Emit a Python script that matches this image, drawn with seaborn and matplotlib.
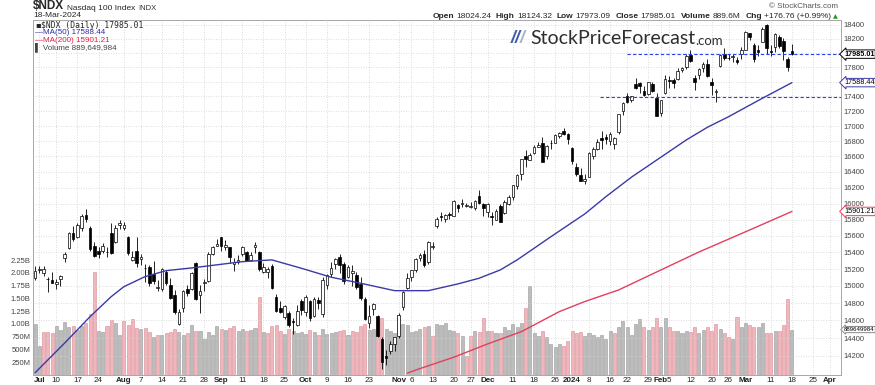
import numpy as np
import pandas as pd
import seaborn as sns
import matplotlib.pyplot as plt
from matplotlib.ticker import FixedLocator, NullLocator

# trading calendar (Jun 30 2023 .. early Apr 2024)
holidays = ['2023-07-04', '2023-09-04', '2023-11-23', '2023-12-25',
            '2024-01-01', '2024-01-15', '2024-02-19', '2024-03-29']
calendar = pd.bdate_range('2023-06-30', '2024-04-05', freq='C', holidays=holidays)

# daily OHLC
opens = [15090, 15185, 15150, 15080, 15075, 15020, 15080, 15330, 15450, 15640,
         15590, 15700, 15860, 15700, 15480, 15420, 15420, 15400, 15640, 15530,
         15730, 15700, 15580, 15310, 15420, 15320, 15210, 15230, 15140, 14980,
         14960, 15160, 15010, 14900, 14560, 14740, 14970, 14970, 15270, 14890,
         15030, 15060, 15380, 15480, 15580, 15460, 15460, 15260, 15280, 15380,
         15410, 15310, 15460, 15400, 15170, 15170, 15240, 14870, 14740, 14640,
         14690, 14590, 14550, 14820, 14700, 14820, 14650, 14840, 14670, 15010,
         15140, 15260, 15340, 15260, 15100, 15150, 15130, 15020, 14850, 14570,
         14730, 14650, 14390, 14200, 14250, 14330, 14420, 14750, 14980, 15100,
         15190, 15330, 15380, 15280, 15460, 15720, 15850, 15810, 15870, 15850,
         15980, 15990, 15970, 15960, 15940, 16100, 16000, 15900, 15840, 15800,
         15970, 15880, 15990, 16080, 16220, 16380, 16610, 16560, 16640, 16730,
         16780, 16600, 16770, 16780, 16870, 16930, 16900, 16710, 16460, 16360,
         16280, 16330, 16600, 16700, 16840, 16860, 16800, 16760, 16920, 17200,
         17400, 17350, 17570, 17580, 17480, 17430, 17570, 17380, 17180, 17450,
         17630, 17630, 17640, 17760, 17800, 17970, 17650, 17700, 17790, 17840,
         17600, 17460, 17820, 17990, 17930, 17940, 17900, 17980, 18050, 18280,
         18110, 18050, 18160, 18400, 18020, 18090, 18230, 18170, 17920, 18024]
highs = [15232, 15240, 15235, 15110, 15165, 15080, 15130, 15410, 15650, 15720,
         15760, 15870, 15932, 15720, 15520, 15470, 15510, 15470, 15760, 15730,
         15800, 15770, 15600, 15420, 15580, 15380, 15260, 15250, 15290, 15070,
         15210, 15190, 15090, 14950, 14730, 14950, 15010, 15160, 15280, 15010,
         15080, 15400, 15480, 15560, 15590, 15550, 15470, 15330, 15370, 15480,
         15420, 15400, 15520, 15420, 15270, 15230, 15260, 14910, 14830, 14780,
         14710, 14630, 14780, 14850, 14890, 14840, 14870, 14870, 15100, 15140,
         15280, 15330, 15380, 15280, 15250, 15250, 15170, 15110, 14870, 14780,
         14800, 14660, 14410, 14270, 14370, 14410, 14690, 14940, 15150, 15190,
         15330, 15390, 15430, 15540, 15520, 15830, 15890, 15870, 15900, 16050,
         16000, 16060, 16010, 16020, 16040, 16170, 16010, 16010, 15890, 15930,
         16000, 16050, 16110, 16230, 16370, 16570, 16690, 16650, 16750, 16790,
         16860, 16750, 16820, 16890, 16920, 16970, 16910, 16720, 16510, 16450,
         16380, 16660, 16720, 16830, 16930, 16900, 16920, 16860, 17160, 17320,
         17440, 17410, 17650, 17600, 17540, 17600, 17590, 17440, 17350, 17700,
         17680, 17650, 17790, 17810, 17980, 18040, 17700, 17790, 17870, 17910,
         17650, 17500, 17980, 18070, 17990, 17990, 17950, 18090, 18310, 18290,
         18140, 18110, 18370, 18416, 18110, 18290, 18250, 18220, 17950, 18124]
lows = [15075, 15150, 15120, 14930, 15030, 14960, 15000, 15280, 15440, 15540,
        15570, 15660, 15770, 15420, 15340, 15330, 15390, 15340, 15380, 15510,
        15690, 15670, 15370, 15300, 15230, 15250, 15050, 15000, 15020, 14940,
        14940, 15010, 14850, 14680, 14550, 14700, 14880, 14950, 14840, 14690,
        14940, 15050, 15370, 15480, 15420, 15430, 15270, 15180, 15260, 15360,
        15290, 15290, 15390, 15180, 15150, 15090, 14970, 14700, 14690, 14620,
        14530, 14450, 14540, 14660, 14650, 14590, 14640, 14730, 14640, 14970,
        15110, 15200, 15150, 15020, 15090, 15000, 14960, 14840, 14610, 14510,
        14660, 14410, 14058, 14100, 14220, 14250, 14400, 14720, 14970, 15060,
        15160, 15290, 15230, 15260, 15440, 15700, 15780, 15770, 15810, 15840,
        15890, 15960, 15960, 15940, 15920, 15990, 15850, 15830, 15730, 15790,
        15770, 15870, 15980, 16050, 16180, 16300, 16470, 16550, 16630, 16720,
        16530, 16570, 16700, 16780, 16840, 16880, 16760, 16500, 16350, 16280,
        16250, 16330, 16570, 16690, 16700, 16760, 16750, 16700, 16900, 17150,
        17310, 17320, 17500, 17450, 17410, 17420, 17460, 17130, 17140, 17430,
        17520, 17510, 17620, 17730, 17780, 17870, 17490, 17640, 17740, 17660,
        17420, 17320, 17800, 17900, 17900, 17880, 17850, 17910, 18040, 18180,
        17870, 17960, 18150, 17990, 17960, 18020, 18070, 17900, 17750, 17973]
closes = [15179, 15204, 15196, 15078, 15034, 15043, 15115, 15381, 15631, 15565,
          15730, 15842, 15810, 15443, 15360, 15385, 15476, 15410, 15390, 15693,
          15757, 15735, 15387, 15349, 15274, 15349, 15214, 15037, 15060, 14991,
          15205, 15029, 14854, 14694, 14694, 14941, 14923, 15148, 14843, 14941,
          15046, 15374, 15467, 15501, 15475, 15488, 15347, 15287, 15306, 15461,
          15298, 15370, 15490, 15203, 15230, 15200, 14979, 14704, 14701, 14771,
          14548, 14585, 14711, 14715, 14875, 14625, 14852, 14805, 15070, 15130,
          15210, 15315, 15253, 15057, 15224, 15178, 14993, 14864, 14618, 14652,
          14788, 14428, 14138, 14180, 14336, 14410, 14665, 14930, 15099, 15183,
          15324, 15363, 15250, 15529, 15482, 15812, 15831, 15859, 15863, 16028,
          15946, 16002, 15983, 15964, 16027, 16005, 15947, 15997, 15836, 15908,
          15776, 16023, 16085, 16229, 16363, 16566, 16561, 16623, 16727, 16746,
          16531, 16742, 16777, 16879, 16908, 16898, 16826, 16543, 16368, 16282,
          16306, 16650, 16692, 16792, 16821, 16832, 16898, 16844, 17156, 17314,
          17329, 17404, 17516, 17538, 17421, 17596, 17476, 17137, 17345, 17642,
          17614, 17578, 17755, 17784, 17963, 17882, 17600, 17770, 17844, 17685,
          17549, 17479, 17970, 17937, 17929, 17965, 17874, 18043, 18302, 18232,
          17912, 18017, 18339, 18078, 18019, 18267, 18099, 18026, 17808, 17985]
# volume in millions
volumes = [990, 565, 840, 850, 830, 960, 890, 1040, 930, 960,
           890, 960, 1020, 1190, 2010, 860, 850, 960, 1070, 1020,
           780, 1050, 980, 1090, 920, 900, 920, 850, 740, 790,
           790, 820, 850, 900, 850, 790, 820, 980, 860, 860,
           700, 850, 790, 960, 900, 880, 920, 960, 860, 900,
           870, 880, 920, 1530, 850, 820, 960, 980, 870, 800,
           900, 860, 820, 850, 800, 880, 850, 780, 900, 800,
           820, 850, 860, 880, 780, 860, 850, 960, 1000, 880,
           900, 1100, 1120, 900, 870, 830, 1160, 1000, 980, 850,
           870, 910, 930, 960, 760, 990, 980, 1010, 880, 860,
           820, 760, 370, 760, 860, 850, 1110, 860, 860, 830,
           820, 930, 890, 1000, 930, 1020, 1320, 1750, 820, 760,
           870, 750, 600, 550, 610, 570, 670, 870, 820, 850,
           760, 820, 790, 750, 780, 700, 870, 820, 940, 1060,
           940, 790, 1000, 1090, 930, 880, 930, 1110, 930, 1110,
           930, 860, 860, 820, 860, 850, 930, 820, 880, 930,
           860, 990, 910, 820, 750, 700, 1140, 930, 1020, 980,
           940, 940, 1020, 820, 820, 870, 870, 980, 1480, 890]

# moving averages (trading-day index, value)
ma50_idx = [0, 7, 13, 18, 21, 26, 31, 37, 46, 49, 56, 63, 70, 77, 85, 93, 100,
            105, 110, 114, 122, 130, 135, 141, 154, 159, 164, 172, 179]
ma50_val = [14015, 14345, 14644, 14875, 14992, 15110, 15181, 15213, 15269, 15288,
            15309, 15209, 15103, 15032, 14945, 14945, 15024, 15091, 15189, 15309,
            15590, 15870, 16086, 16332, 16816, 16984, 17125, 17374, 17588]
ma200_idx = [88, 91, 99, 107, 115, 124, 130, 138, 148, 157, 169, 179]
ma200_val = [14010, 14060, 14186, 14334, 14473, 14702, 14818, 14953, 15189,
             15404, 15672, 15901]

tick_dates = ['2023-07-03', '2023-07-10', '2023-07-17', '2023-07-24', '2023-08-01',
              '2023-08-07', '2023-08-14', '2023-08-21', '2023-08-28', '2023-09-01',
              '2023-09-11', '2023-09-18', '2023-09-25', '2023-10-02', '2023-10-09',
              '2023-10-16', '2023-10-23', '2023-11-01', '2023-11-06', '2023-11-13',
              '2023-11-20', '2023-11-27', '2023-12-01', '2023-12-11', '2023-12-18',
              '2023-12-26', '2024-01-02', '2024-01-08', '2024-01-16', '2024-01-22',
              '2024-01-29', '2024-02-01', '2024-02-05', '2024-02-12', '2024-02-20',
              '2024-02-26', '2024-03-01', '2024-03-11', '2024-03-18', '2024-03-25',
              '2024-04-01']
tick_labels = ['Jul', '10', '17', '24', 'Aug', '7', '14', '21', '28', 'Sep', '11',
               '18', '25', 'Oct', '9', '16', '23', 'Nov', '6', '13', '20', '27',
               'Dec', '11', '18', '26', '2024', '8', '16', '22', '29', 'Feb', '5',
               '12', '20', '26', 'Mar', '11', '18', '25', 'Apr']

price_ticks = list(range(14200, 18401, 200))
hidden_price_labels = [18000, 17600]   # covered by the price tags
vol_ticks = [250, 500, 750, 1000, 1250, 1500, 1750, 2000, 2250]
vol_tick_labels = ['250M', '500M', '750M', '1.00B', '1.25B', '1.50B', '1.75B',
                   '2.00B', '2.25B']

last_close = 17985.01
support = 17390

sns.set_style('white')
plt.rcParams['font.family'] = ['Liberation Sans', 'DejaVu Sans']

W, H = 875, 385
fig = plt.figure(figsize=(W / 100, H / 100), dpi=100)


def fx(px):
    return px / W


def fy(py):
    return 1 - py / H


ax_vol = fig.add_axes([fx(33), fy(375), fx(841) - fx(33), fy(20) - fy(375)])
ax = ax_vol.twinx()

n = len(closes)
x = np.arange(n)
o = np.array(opens, float)
c = np.array(closes, float)
hi = np.array(highs, float)
lo = np.array(lows, float)
vol = np.array(volumes, float) * 1e6

# volume bars, red when close is below previous close
prev = np.r_[c[0] - 1, c[:-1]]
down = c < prev
ax_vol.bar(x, vol, width=0.72, color=np.where(down, '#f1b6bb', '#bcbcbc'),
           edgecolor=np.where(down, '#d98c95', '#9a9a9a'), linewidth=0.4, zorder=2)
ax_vol.set_ylim(0, 6.95e9)
ax_vol.yaxis.set_major_locator(FixedLocator([v * 1e6 for v in vol_ticks]))
ax_vol.set_yticklabels(vol_tick_labels)

cal_pos = {d.strftime('%Y-%m-%d'): i for i, d in enumerate(calendar)}
tpos = [cal_pos[d] for d in tick_dates]
ax_vol.set_xticks(tpos)
ax_vol.set_xticklabels(tick_labels)
for t, lab in zip(ax_vol.get_xticklabels(), tick_labels):
    if not lab.isdigit() or lab == '2024':
        t.set_fontweight('bold')
ax_vol.set_xlim(-0.5, 190.6)
ax_vol.grid(axis='x', color='#cfcfcf', linestyle=(0, (1, 2)), linewidth=0.6)
ax_vol.set_axisbelow(True)
ax_vol.tick_params(axis='x', length=0, pad=1.5, labelsize=5.8, colors='#222222')
ax_vol.tick_params(axis='y', length=0, pad=2, labelsize=5.5, colors='#444444')

# price panel (log scale)
ax.set_yscale('log')
ax.set_ylim(13990, 18472)
ax.yaxis.set_major_locator(FixedLocator(price_ticks))
ax.yaxis.set_minor_locator(NullLocator())
ax.set_yticklabels(['' if p in hidden_price_labels else str(p) for p in price_ticks])
ax.tick_params(axis='y', which='both', length=0, pad=2, labelsize=5.5, colors='#444444')
ax.grid(axis='y', color='#d4d4d4', linestyle=(0, (1, 2)), linewidth=0.6)

up = c >= o
body_lo = np.minimum(o, c)
body_h = np.maximum(np.abs(c - o), 6)
ax.vlines(x, lo, hi, color='black', linewidth=0.6, zorder=3)
ax.bar(x, body_h, bottom=body_lo, width=0.62, color=np.where(up, 'white', 'black'),
       edgecolor='black', linewidth=0.5, zorder=4)

sns.lineplot(x=ma50_idx, y=ma50_val, ax=ax, color='#3a3aa6', linewidth=1.0, zorder=5)
sns.lineplot(x=ma200_idx, y=ma200_val, ax=ax, color='#e0405e', linewidth=1.0, zorder=5)

ax.hlines(last_close, 140, 190.6, color='#2a3ff0', linestyle=(0, (3, 2)), linewidth=0.8, zorder=6)
ax.hlines(support, 133.5, 190.6, color='#2a3ff0', linestyle=(0, (3, 2)), linewidth=0.8, zorder=6)
ax.set_xlim(-0.5, 190.6)
ax.set_ylabel('')
ax_vol.set_ylabel('')

for a in (ax, ax_vol):
    for s in a.spines.values():
        s.set_color('#a8a8a8')
        s.set_linewidth(0.6)

# price tags on the right edge
tags = [(ax, last_close, '17985.01', 'black', 'bold', 5.2),
        (ax, 17588.44, '17588.44', '#3a3aa6', 'normal', 5.2),
        (ax, 15901.21, '15901.21', '#e0405e', 'normal', 5.2),
        (ax_vol, 889649984, '889649984', '#888888', 'normal', 4.4)]
for a, v, s, col, fw, fs in tags:
    a.annotate(s, xy=(1, v), xycoords=('axes fraction', 'data'), xytext=(2.2, 0),
               textcoords='offset points', ha='left', va='center', fontsize=fs,
               fontweight=fw, color='black',
               bbox=dict(boxstyle='larrow,pad=0.1', fc='white', ec=col, lw=0.7),
               annotation_clip=False, zorder=10)


def text_run(x0, y0, parts, align='left'):
    # chain text pieces; gap (px) is the space after each piece
    if align == 'left':
        s, kw, gap = parts[0]
        art = fig.text(x0, y0, s, ha='left', va='bottom', **kw)
        for s, kw, g in parts[1:]:
            art = ax.annotate(s, xy=(1, 0), xycoords=art, xytext=(gap * 0.72, 0),
                              textcoords='offset points', ha='left', va='bottom',
                              annotation_clip=False, **kw)
            gap = g
    else:
        s, kw, gap = parts[-1]
        art = fig.text(x0, y0, s, ha='right', va='bottom', **kw)
        for s, kw, g in reversed(parts[:-1]):
            art = ax.annotate(s, xy=(0, 0), xycoords=art, xytext=(-g * 0.72, 0),
                              textcoords='offset points', ha='right', va='bottom',
                              annotation_clip=False, **kw)


# header
text_run(fx(33), fy(12), [('$NDX', dict(fontsize=8.5, fontweight='bold'), 3),
                          ('Nasdaq 100 Index', dict(fontsize=6), 3),
                          ('INDX', dict(fontsize=5.5, color='#333333'), 0)])
fig.text(fx(33), fy(15.5), '18-Mar-2024', fontsize=6, va='center', ha='left')
fig.text(fx(838), fy(6), '\u00a9 StockCharts.com', fontsize=5.8, color='#555555',
         va='center', ha='right')
b = dict(fontsize=6, fontweight='bold')
r_ = dict(fontsize=6)
text_run(fx(838), fy(19.5), [('Open', b, 2), ('18024.24', r_, 5), ('High', b, 2),
                             ('18124.32', r_, 5), ('Low', b, 2), ('17973.09', r_, 5),
                             ('Close', b, 2), ('17985.01', r_, 5), ('Volume', b, 2),
                             ('889.6M', r_, 5), ('Chg', b, 2),
                             ('+176.76 (+0.99%)', r_, 2),
                             ('\u25b2', dict(fontsize=4.5, color='#1a9a1a',
                                             family='DejaVu Sans'), 0)],
         align='right')

# legend block inside the plot
fig.text(fx(35), fy(25), '\u25aa', fontsize=6, va='center', family='DejaVu Sans')
fig.text(fx(41), fy(25), '$NDX (Daily) 17985.01', fontsize=5.8, va='center',
         family='DejaVu Sans Mono')
fig.text(fx(35), fy(32.5), '\u2014MA(50) 17588.44', fontsize=5.8, va='center', color='#2b2bb0')
fig.text(fx(35), fy(40), '\u2014MA(200) 15901.21', fontsize=5.8, va='center', color='#e0204a')
fig.text(fx(35), fy(47.5), '\u258c Volume 889,649,984', fontsize=5.8, va='center',
         color='#444444', family=['Liberation Sans', 'DejaVu Sans'])

# watermark logo
text_run(fx(511), fy(47), [('//', dict(fontsize=13, fontweight='bold', color='#3d5da6',
                                        style='italic'), -1),
                           ('/', dict(fontsize=13, fontweight='bold', color='#a8b4c8',
                                      style='italic'), 5),
                           ('StockPriceForecast', dict(fontsize=14, color='#2e2e2e',
                                                       family='Lato'), 0),
                           ('.com', dict(fontsize=9.5, color='#2e2e2e', family='Lato'), 0)])

fig.savefig('out.png', dpi=100)
